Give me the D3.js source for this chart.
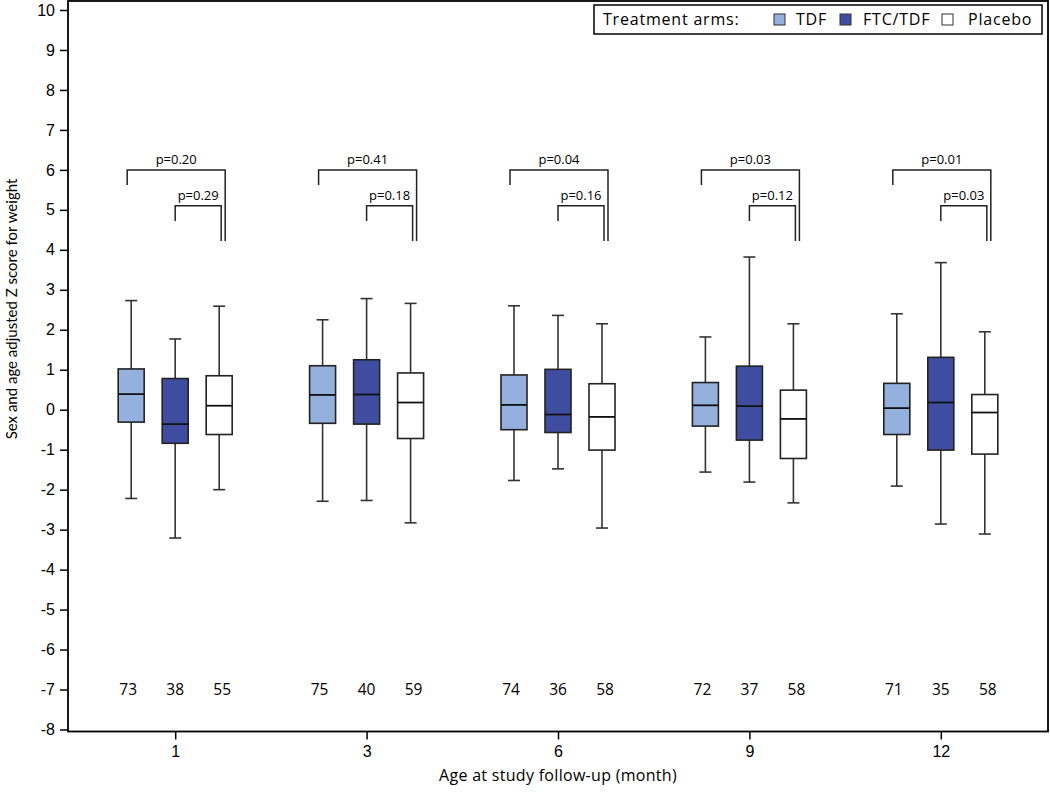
<!DOCTYPE html>
<html>
<head>
<meta charset="utf-8">
<script src="https://cdn.jsdelivr.net/npm/d3@7"></script>
<style>
  html, body { margin: 0; padding: 0; background: #fff; }
  svg { display: block; font-family: "Open Sans", "Noto Sans", sans-serif; }
</style>
</head>
<body>
<svg id="chart" width="1050" height="796"></svg>
<script>
// ---- data ----
const months = ["1", "3", "6", "9", "12"];
const arms = ["TDF", "FTC/TDF", "Placebo"];
const armColors = ["#93B1DC", "#3F4DA0", "#FFFFFF"];
// [low whisker, Q1, median, Q3, high whisker] per month
const tdfStats = [
  [-2.22, -0.31, 0.39, 1.02, 2.73],
  [-2.29, -0.34, 0.37, 1.10, 2.25],
  [-1.77, -0.50, 0.12, 0.87, 2.60],
  [-1.56, -0.41, 0.11, 0.68, 1.82],
  [-1.91, -0.62, 0.04, 0.66, 2.40]
];
const ftcStats = [
  [-3.21, -0.84, -0.36, 0.78, 1.77],
  [-2.27, -0.36, 0.38, 1.25, 2.78],
  [-1.48, -0.57, -0.12, 1.01, 2.36],
  [-1.81, -0.76, 0.09, 1.09, 3.82],
  [-2.86, -1.01, 0.18, 1.31, 3.68]
];
const placeboStats = [
  [-2.00, -0.62, 0.10, 0.85, 2.59],
  [-2.83, -0.72, 0.18, 0.92, 2.66],
  [-2.96, -1.01, -0.18, 0.65, 2.15],
  [-2.33, -1.22, -0.23, 0.49, 2.15],
  [-3.11, -1.11, -0.07, 0.38, 1.95]
];
const tdfN = [73, 75, 74, 72, 71];
const ftcN = [38, 40, 36, 37, 35];
const placeboN = [55, 59, 58, 58, 58];
const pTdfVsPlacebo = ["p=0.20", "p=0.41", "p=0.04", "p=0.03", "p=0.01"];
const pFtcVsPlacebo = ["p=0.29", "p=0.18", "p=0.16", "p=0.12", "p=0.03"];
const yTicks = d3.range(-8, 11);
const xTitle = "Age at study follow-up (month)";
const yTitle = "Sex and age adjusted Z score for weight";
const legendTitle = "Treatment arms:";

// ---- layout ----
const svg = d3.select("#chart");
const pLeft = 68, pRight = 1048, pTop = 1, pBottom = 731.5;

const x = d3.scalePoint().domain(months).range([pLeft, pRight]).padding(0.56);
const y = d3.scaleLinear().domain([-8.05, 10.225]).range([pBottom, pTop]);

const armOffset = [-44, 0, 44];
const nOffset = [-47, 0, 47];
const boxW = 26, capW = 12;
const statsByArm = [tdfStats, ftcStats, placeboStats];
const nByArm = [tdfN, ftcN, placeboN];

// axes
const yAxis = d3.axisLeft(y).tickValues(yTicks).tickSize(8).tickPadding(5).tickFormat(d => String(d));
const gy = svg.append("g").attr("transform", `translate(${pLeft},0)`).call(yAxis);
gy.select(".domain").remove();
gy.selectAll("line").attr("stroke", "#000").attr("stroke-width", 1.5);
gy.selectAll("text").attr("font-size", 16).attr("fill", "#000");

const xAxis = d3.axisBottom(x).tickSize(8).tickPadding(6);
const gx = svg.append("g").attr("transform", `translate(0,${pBottom})`).call(xAxis);
gx.select(".domain").remove();
gx.selectAll("line").attr("stroke", "#000").attr("stroke-width", 1.5);
gx.selectAll("text").attr("font-size", 16).attr("fill", "#000");

// frame
svg.append("rect").attr("x", pLeft).attr("y", pTop).attr("width", pRight - pLeft).attr("height", pBottom - pTop)
  .attr("fill", "none").attr("stroke", "#000").attr("stroke-width", 1.8);

// boxes
months.forEach((m, i) => {
  arms.forEach((a, j) => {
    const s = statsByArm[j][i];
    const cx = x(m) + armOffset[j];
    const g = svg.append("g");
    g.append("line").attr("x1", cx).attr("x2", cx).attr("y1", y(s[4])).attr("y2", y(s[3]))
      .attr("stroke", "#333").attr("stroke-width", 1.6);
    g.append("line").attr("x1", cx).attr("x2", cx).attr("y1", y(s[1])).attr("y2", y(s[0]))
      .attr("stroke", "#333").attr("stroke-width", 1.6);
    g.append("line").attr("x1", cx - capW / 2).attr("x2", cx + capW / 2).attr("y1", y(s[4])).attr("y2", y(s[4]))
      .attr("stroke", "#333").attr("stroke-width", 1.6);
    g.append("line").attr("x1", cx - capW / 2).attr("x2", cx + capW / 2).attr("y1", y(s[0])).attr("y2", y(s[0]))
      .attr("stroke", "#333").attr("stroke-width", 1.6);
    g.append("rect").attr("x", cx - boxW / 2).attr("y", y(s[3])).attr("width", boxW).attr("height", y(s[1]) - y(s[3]))
      .attr("fill", armColors[j]).attr("stroke", "#222").attr("stroke-width", 1.6);
    g.append("line").attr("x1", cx - boxW / 2).attr("x2", cx + boxW / 2).attr("y1", y(s[2])).attr("y2", y(s[2]))
      .attr("stroke", "#111").attr("stroke-width", 1.8);
    // N label
    svg.append("text").attr("x", x(m) + nOffset[j]).attr("y", y(-7)).attr("dy", "0.35em")
      .attr("text-anchor", "middle").attr("font-size", 15.5).text(nByArm[j][i]);
  });

  // brackets
  const c = x(m);
  const oL = c + armOffset[0] - 4, oR = c + armOffset[2] + 6;
  const iL = c + armOffset[1], iR = c + armOffset[2] + 2;
  const legEnd = y(4.22);
  svg.append("path")
    .attr("d", `M${oL},${y(5.62)}V${y(6.0)}H${oR}V${legEnd}`)
    .attr("fill", "none").attr("stroke", "#222").attr("stroke-width", 1.5);
  svg.append("path")
    .attr("d", `M${iL},${y(4.72)}V${y(5.1)}H${iR}V${legEnd}`)
    .attr("fill", "none").attr("stroke", "#222").attr("stroke-width", 1.5);
  svg.append("text").attr("x", (oL + oR) / 2).attr("y", y(6.0) - 6).attr("text-anchor", "middle")
    .attr("font-size", 13).text(pTdfVsPlacebo[i]);
  svg.append("text").attr("x", (iL + iR) / 2).attr("y", y(5.1) - 6).attr("text-anchor", "middle")
    .attr("font-size", 13).text(pFtcVsPlacebo[i]);
});

// axis titles
svg.append("text").attr("x", x("6")).attr("y", 781).attr("text-anchor", "middle")
  .attr("font-size", 16).attr("letter-spacing", 0.3).text(xTitle);
svg.append("text").attr("transform", `translate(17,309) rotate(-90)`).attr("text-anchor", "middle")
  .attr("font-family", "Lato, 'Open Sans', sans-serif")
  .attr("font-size", 15).attr("letter-spacing", 0).text(yTitle);

// legend
const lg = svg.append("g");
lg.append("rect").attr("x", 594).attr("y", 5).attr("width", 448).attr("height", 29)
  .attr("fill", "#fff").attr("stroke", "#000").attr("stroke-width", 1.5);
lg.append("text").attr("x", 603).attr("y", 25).attr("font-size", 16).attr("letter-spacing", 0.8).text(legendTitle);
const legSq = [774, 840, 942];
const legTx = [796, 863, 968];
arms.forEach((a, j) => {
  lg.append("rect").attr("x", legSq[j]).attr("y", 14).attr("width", 11).attr("height", 11)
    .attr("fill", armColors[j]).attr("stroke", "#333").attr("stroke-width", 1);
  lg.append("text").attr("x", legTx[j]).attr("y", 25).attr("font-size", 16).attr("letter-spacing", 0.8).text(a);
});
</script>
</body>
</html>
